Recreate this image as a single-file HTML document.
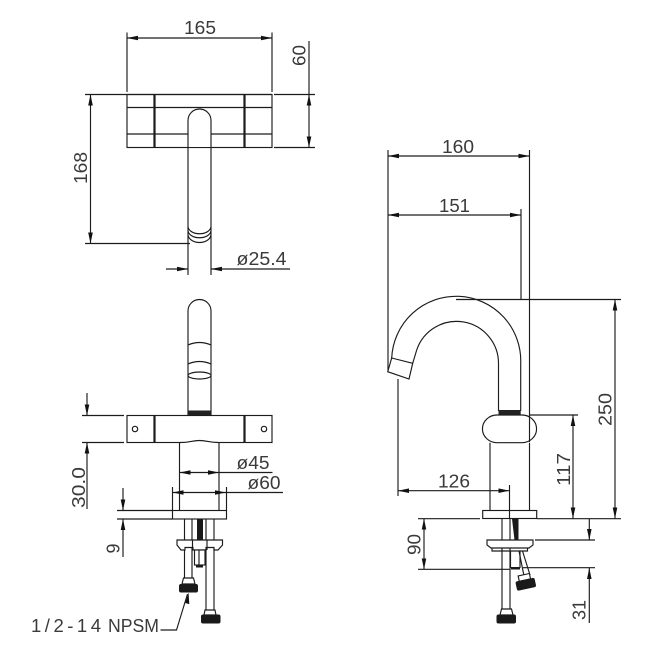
<!DOCTYPE html>
<html><head><meta charset="utf-8"><style>
html,body{margin:0;padding:0;background:#fff}
svg{display:block}
text{font-family:"Liberation Sans",sans-serif;font-size:18.5px;fill:#3a3a3a}
.l{stroke:#1c1c1c;stroke-width:1.15;fill:none}
.t{stroke:#1c1c1c;stroke-width:2.2;fill:none}
.b{fill:#1a1a1a;stroke:none}
.w{stroke:#1c1c1c;stroke-width:1.15;fill:#fff}
</style></head><body>
<svg width="650" height="650" viewBox="0 0 650 650" xmlns="http://www.w3.org/2000/svg">
<defs>
<marker id="a" viewBox="0 0 11 4.600" refX="11" refY="2.300" markerWidth="11" markerHeight="4.600" orient="auto-start-reverse" markerUnits="userSpaceOnUse"><path d="M0 0L11 2.300L0 4.600Z" fill="#111"/></marker>
</defs>

<!-- TOP VIEW -->
<path class="l" d="M127 32.500V92M272 32.500V92M85 94.500H272M274 94.500H315M274 147.500H315M85 243.500H190"/>
<path class="l" d="M127 38H272" marker-start="url(#a)" marker-end="url(#a)"/>
<path class="l" d="M309 41V94"/>
<path class="l" d="M309 94.500V147.500" marker-start="url(#a)" marker-end="url(#a)"/>
<path class="l" d="M90.500 94.500V243.500" marker-start="url(#a)" marker-end="url(#a)"/>
<rect class="l" x="127" y="94.500" width="145" height="53"/>
<path class="l" d="M127 107.500H272M127 134H272"/>
<path class="t" d="M154.500 94.500V147.500M244.500 94.500V147.500"/>
<path d="M188 147V120.500A11.500 11.500 0 0 1 211 120.500V147Z" fill="#fff" stroke="none"/>
<path class="l" d="M188 275V120.500A11.500 11.500 0 0 1 211 120.500V275"/>
<path class="l" d="M188 227C190 236 209 236 211 227M188 231C190 240 209 240 211 231M188 235C190 245 209 245 211 235"/>
<path class="l" d="M166 269H188" marker-end="url(#a)"/>
<path class="l" d="M290 269H211" marker-end="url(#a)"/>
<text x="184" y="34" textLength="32" lengthAdjust="spacingAndGlyphs">165</text>
<text transform="translate(305.500,66) rotate(-90)" textLength="21" lengthAdjust="spacingAndGlyphs">60</text>
<text transform="translate(87,184) rotate(-90)" textLength="32" lengthAdjust="spacingAndGlyphs">168</text>
<text x="236.500" y="265" textLength="50" lengthAdjust="spacingAndGlyphs">ø25.4</text>

<!-- FRONT VIEW -->
<path class="l" d="M188 415V311A11.500 11.500 0 0 1 211 311V415"/>
<path class="l" d="M188 345Q199.500 340 211 345M188 364Q199.500 359 211 364"/>
<ellipse class="l" cx="199.500" cy="375.500" rx="11.500" ry="3.500"/>
<path d="M188 410.500H211V415H188Z" fill="#222"/>
<rect class="l" x="127" y="415.500" width="145" height="27"/>
<path class="t" d="M154.500 415.500V442.500M244.500 415.500V442.500"/>
<circle class="l" cx="135" cy="429" r="2.700"/>
<circle class="l" cx="264" cy="429" r="2.700"/>
<path d="M180 442.500H218" stroke="#fff" stroke-width="2" fill="none"/>
<path class="l" d="M180 442.500C190 442.500 192 440.500 199.500 440.500C207 440.500 209 442.500 218 442.500"/>
<path class="l" d="M179.500 443V510.500M219 443V510.500"/>
<path class="l" d="M82 415.500H124M82 442.500H124"/>
<path class="l" d="M87 393V415.500" marker-end="url(#a)"/>
<path class="l" d="M87 509V442.500" marker-end="url(#a)"/>
<path class="l" d="M179.500 472.500H219" marker-start="url(#a)" marker-end="url(#a)"/>
<path class="l" d="M219 472.500H272.500M226 492.500H283"/>
<path class="l" d="M172.500 492.500H226" marker-start="url(#a)" marker-end="url(#a)"/>
<path class="l" d="M172.500 487V510M226.500 487V510"/>
<path class="l" d="M117 510.500H172M117 519H172"/>
<path class="l" d="M123 488V510.500" marker-end="url(#a)"/>
<path class="l" d="M123 557V519" marker-end="url(#a)"/>
<text x="236.500" y="469" textLength="33" lengthAdjust="spacingAndGlyphs">ø45</text>
<text x="247.500" y="489" textLength="33" lengthAdjust="spacingAndGlyphs">ø60</text>
<text transform="translate(85,508) rotate(-90)" textLength="41" lengthAdjust="spacingAndGlyphs">30.0</text>
<text transform="translate(119.500,553.500) rotate(-90)" textLength="10" lengthAdjust="spacingAndGlyphs">9</text>

<rect class="l" x="172.500" y="510.500" width="54" height="8.500"/>
<path class="l" d="M184.500 519V578M192 519V578M206 519V610M214 519V610"/>
<rect class="b" x="197" y="519" width="6" height="21"/>
<path class="w" d="M177 540H222.500V545L218 550H214V547.500H206V550H193V547.500H185V550H181L177 545Z"/>
<path class="l" d="M192.500 540V550M207 540V550"/>
<rect class="w" x="194.500" y="550" width="10.500" height="15"/>
<path class="l" d="M199 550V565"/>
<rect class="b" x="196" y="565" width="7" height="2.500"/>
<path class="w" d="M182 584L183.500 578H193.500L195 584Z"/>
<rect class="b" x="179" y="584" width="19" height="8.500" rx="2"/>
<path class="w" d="M204 615L205 610H215L216 615Z"/>
<rect class="b" x="201" y="614.500" width="19.500" height="9" rx="2"/>
<path class="l" d="M160.500 630H176.500L187.500 594" />
<path d="M188.500 592.500L185.200 603L189.300 604.100Z" fill="#111"/>
<text x="31" y="632" textLength="70" lengthAdjust="spacing">1/2-14</text>
<text x="108" y="632" textLength="51" lengthAdjust="spacingAndGlyphs">NPSM</text>

<!-- SIDE VIEW -->
<path class="l" d="M388 150V370M529.500 150V415M521 209V300M398 379V496"/>
<path class="l" d="M388 156H529.500" marker-start="url(#a)" marker-end="url(#a)"/>
<path class="l" d="M388 215H521" marker-start="url(#a)" marker-end="url(#a)"/>
<path class="l" d="M520.700 411V363.700A64 64 0 0 0 391.700 358"/>
<path class="l" d="M498.500 411V363.700A42 42 0 0 0 416.700 350L412.700 363.300"/>
<path class="l" d="M391.700 358L412.700 363.300L409 379L387.700 371.700Z"/>
<path d="M498.500 410H520.700V414.500H498.500Z" fill="#222"/>
<path class="l" d="M456 299.500H621M530 415H578"/>
<path class="w" d="M497 415H522A14.500 13.800 0 0 1 522 442.700H497A14.500 13.800 0 0 1 497 415Z"/>
<path class="l" d="M529.500 415V442"/>
<path class="l" d="M490 442.700V510.500M529.500 442.700V510.500"/>
<path class="l" d="M615 299.500V518.500" marker-start="url(#a)" marker-end="url(#a)"/>
<path class="l" d="M573 415V518.500" marker-start="url(#a)" marker-end="url(#a)"/>
<path class="l" d="M398 490.700H509.500" marker-start="url(#a)" marker-end="url(#a)"/>
<path class="l" d="M509.500 485V518"/>
<rect class="l" x="482.700" y="510.500" width="54" height="8"/>
<path class="l" d="M418 518.700H480M537 518.700H621M418 569.300H510M535 540H595M523 567.700H595"/>
<path class="l" d="M424 518.700V569.300" marker-start="url(#a)" marker-end="url(#a)"/>
<path class="l" d="M589.300 519V540" marker-end="url(#a)"/>
<path class="l" d="M589.300 623V568" marker-end="url(#a)"/>
<path class="l" d="M502 519V610M510 519V610"/>
<path d="M512 519H518.500V540H514.500Z" fill="#1a1a1a"/>
<path class="w" d="M487 540H533V545L529 548H491L487 545Z"/>
<path class="l" d="M492 548V551H527.500V548"/>
<path class="l" d="M510.500 551V568M520 551V568"/>
<rect class="b" x="511" y="567" width="9" height="2.500"/>
<path class="l" d="M519 551L524 576M522.500 551L530 575"/>
<g transform="rotate(-12 525.700 584)">
<rect class="w" x="520" y="574.500" width="11.500" height="5.500"/>
<rect class="b" x="516" y="579.500" width="19.500" height="9.500" rx="2"/>
</g>
<path class="w" d="M500 615L501.500 609H511.500L513 615Z"/>
<rect class="b" x="496.500" y="614.500" width="19.500" height="9" rx="2"/>
<text x="442" y="153" textLength="32" lengthAdjust="spacingAndGlyphs">160</text>
<text x="439" y="212" textLength="31" lengthAdjust="spacingAndGlyphs">151</text>
<text x="438" y="487.500" textLength="32" lengthAdjust="spacingAndGlyphs">126</text>
<text transform="translate(611.500,426) rotate(-90)" textLength="33" lengthAdjust="spacingAndGlyphs">250</text>
<text transform="translate(570,486) rotate(-90)" textLength="33" lengthAdjust="spacingAndGlyphs">117</text>
<text transform="translate(420.500,555) rotate(-90)" textLength="21" lengthAdjust="spacingAndGlyphs">90</text>
<text transform="translate(585.500,620) rotate(-90)" textLength="20" lengthAdjust="spacingAndGlyphs">31</text>
</svg>
</body></html>
